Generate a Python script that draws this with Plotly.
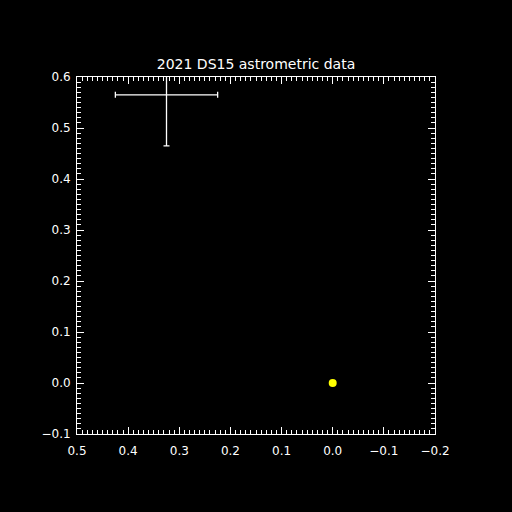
import plotly.graph_objects as go

# Data
astro_x = [0.325]
astro_y = [0.565]
astro_xerr = [0.1]
astro_yerr = [0.1]
target_x = [0.0]
target_y = [0.0]

title_text = "2021 DS15 astrometric data"
x_range = [0.5, -0.2]
y_range = [-0.1, 0.6]

fig = go.Figure()
fig.add_trace(go.Scatter(
    x=astro_x, y=astro_y, mode="markers",
    marker=dict(color="white", size=1),
    error_x=dict(type="data", array=astro_xerr, color="white", thickness=1.3, width=3),
    error_y=dict(type="data", array=astro_yerr, color="white", thickness=1.3, width=3),
    showlegend=False,
))
fig.add_trace(go.Scatter(
    x=target_x, y=target_y, mode="markers",
    marker=dict(color="yellow", size=8, line=dict(width=0)),
    showlegend=False,
))

axis_common = dict(
    showgrid=False, zeroline=False,
    showline=True, linecolor="white", linewidth=1, mirror="ticks",
    ticks="inside", ticklen=7, tickcolor="white", tickwidth=1,
    dtick=0.1, tickformat=".1f",
    minor=dict(ticks="inside", ticklen=4, tickcolor="white", dtick=0.01, showgrid=False),
    tickfont=dict(family="DejaVu Sans", size=12, color="white"),
)

fig.update_layout(
    width=512, height=512,
    paper_bgcolor="black", plot_bgcolor="black",
    margin=dict(l=77, r=77, t=77, b=78),
    title=dict(text=title_text, x=0.5, xanchor="center", y=1 - 64 / 512, yanchor="middle",
               font=dict(family="DejaVu Sans", size=14, color="white")),
    xaxis=dict(range=x_range, tick0=0, ticklabelstandoff=6, **axis_common),
    yaxis=dict(range=y_range, tick0=0, ticklabelstandoff=3, **axis_common),
)

fig.write_html(
    "out.html",
    config={"displayModeBar": False},
    post_script="document.body.style.margin='0';document.body.style.background='black';",
)
